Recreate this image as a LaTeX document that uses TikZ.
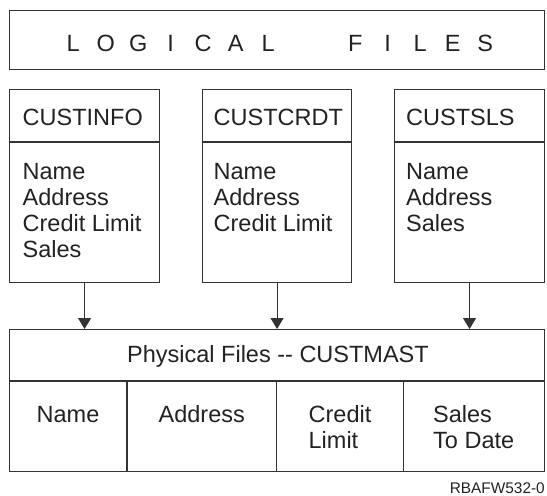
\documentclass[tikz,border=0pt]{standalone}
\usepackage{fontspec}
\setmainfont{Liberation Sans}
\usetikzlibrary{arrows.meta}
\definecolor{ink}{HTML}{222222}
\definecolor{linec}{HTML}{333333}
\newcommand\fieldlist[1]{\begin{tabular}[t]{@{}l@{}}#1\end{tabular}}
\newcommand\lfch[1]{\makebox[32.5pt]{#1}}
\begin{document}
\begin{tikzpicture}[x=1pt,y=-1pt,
  frame/.style={draw=linec, line width=1.1pt, inner sep=0pt, anchor=north west},
  txt/.style={text=ink, inner sep=0pt, font=\fontsize{23.5}{26}\selectfont},
  conn/.style={draw=linec, line width=1.1pt, -{Triangle[width=13pt,length=11pt]}},
  rule/.style={draw=linec, line width=1.1pt}]
\useasboundingbox (0,0) rectangle (547,496);
% top banner
\node[frame, minimum width=535pt, minimum height=59pt] (logical) at (9,10) {};
\node[txt, anchor=base west] (logtitle) at (56.75,51)
  {\lfch{L}\lfch{O}\lfch{G}\lfch{I}\lfch{C}\lfch{A}\lfch{L}\hspace{54.5pt}\lfch{F}\lfch{I}\lfch{L}\lfch{E}\lfch{S}};
% logical file boxes
\node[frame, minimum width=150pt, minimum height=193pt] (custinfo) at (9,89) {};
\node[frame, minimum width=149pt, minimum height=193pt] (custcrdt) at (202,89) {};
\node[frame, minimum width=150pt, minimum height=193pt] (custsls) at (394,89) {};
\draw[rule] (custinfo.west |- 0,142) -- (custinfo.east |- 0,142);
\draw[rule] (custcrdt.west |- 0,142) -- (custcrdt.east |- 0,142);
\draw[rule] (custsls.west |- 0,142) -- (custsls.east |- 0,142);
\node[txt, anchor=base west] (t1) at (22.5,125) {CUSTINFO};
\node[txt, anchor=base west] (t2) at (213.5,125) {CUSTCRDT};
\node[txt, anchor=base west] (t3) at (406,125) {CUSTSLS};
\node[txt, anchor=base west] (f1) at (22.5,179) {\fieldlist{Name\\Address\\Credit Limit\\Sales}};
\node[txt, anchor=base west] (f2) at (213.5,179) {\fieldlist{Name\\Address\\Credit Limit}};
\node[txt, anchor=base west] (f3) at (406,179) {\fieldlist{Name\\Address\\Sales}};
% physical file
\node[frame, minimum width=535pt, minimum height=142pt] (phys) at (9,329) {};
\draw[rule] (phys.west |- 0,381) -- (phys.east |- 0,381);
\draw[rule] (127,381) -- (127,0 |- phys.south);
\draw[rule] (276.5,381) -- (276.5,0 |- phys.south);
\draw[rule] (403.4,381) -- (403.4,0 |- phys.south);
\node[txt, anchor=base] (ptitle) at (278,362.5) {Physical Files -{}- CUSTMAST};
\node[txt, anchor=base] (c1) at (68,422) {\fieldlist{Name}};
\node[txt, anchor=base] (c2) at (201.75,422) {\fieldlist{Address}};
\node[txt, anchor=base] (c3) at (340,422) {\fieldlist{Credit\\Limit}};
\node[txt, anchor=base] (c4) at (473.7,422) {\fieldlist{Sales\\To Date}};
% connectors
\draw[conn] (custinfo.south) -- (custinfo.south |- phys.north);
\draw[conn] (custcrdt.south) -- (custcrdt.south |- phys.north);
\draw[conn] (custsls.south) -- (custsls.south |- phys.north);
% figure id
\node[anchor=base east, text=ink, inner sep=0pt, font=\fontsize{15.4}{18}\selectfont] (figid) at (545,493.5) {RBAFW532-0};
\end{tikzpicture}
\end{document}
